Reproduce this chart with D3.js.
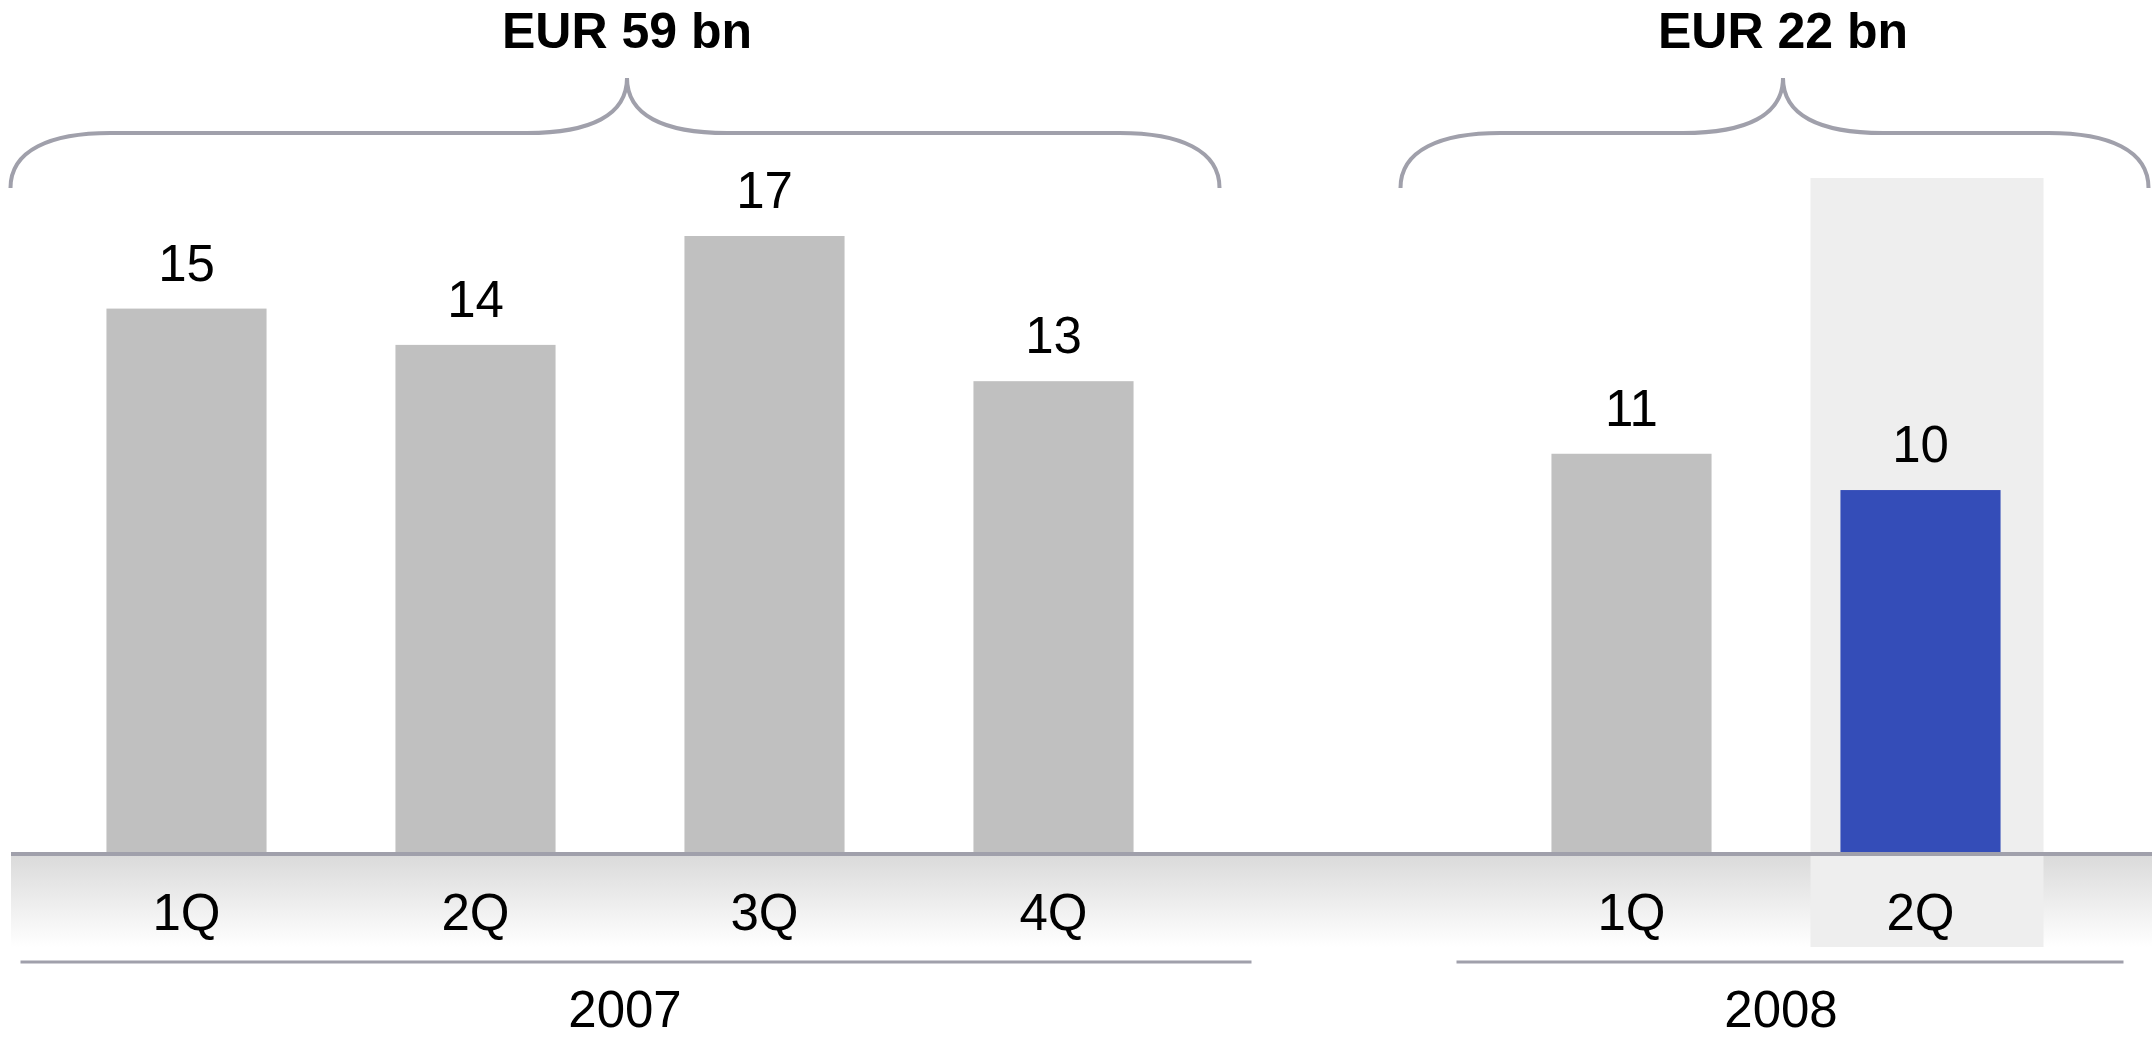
<!DOCTYPE html>
<html>
<head>
<meta charset="utf-8">
<script src="https://cdn.jsdelivr.net/npm/d3@7"></script>
<style>
  html, body { margin: 0; padding: 0; background: #ffffff; }
  svg { display: block; }
  text { font-family: "Liberation Sans", Arial, sans-serif; fill: #000; }
</style>
</head>
<body>
<svg id="chart" width="2152" height="1040"></svg>
<script>
// Quarterly values, EUR bn
const years = ["2007", "2008"];
const yearTotals = ["EUR 59 bn", "EUR 22 bn"];
const quarters = ["1Q", "2Q", "3Q", "4Q", "1Q", "2Q"];
const quarterYears = ["2007", "2007", "2007", "2007", "2008", "2008"];
const values = [15, 14, 17, 13, 11, 10];
const highlighted = [false, false, false, false, false, true];

const W = 2152, H = 1040;
const svg = d3.select("#chart");

// Slot keys; an empty slot separates the two years
const keys = quarters.map((q, i) => quarterYears[i] + "-" + q);
const slots = keys.slice(0, 4).concat(["gap"], keys.slice(4));

const x = d3.scaleBand()
  .domain(slots)
  .range([42, 42 + 7 * 289])
  .paddingInner(0.446)
  .paddingOuter(0.223);

const baseY = 853;
const y = d3.scaleLinear().domain([0, 17]).range([baseY, 236]);

const cx = k => x(k) + x.bandwidth() / 2;
const data = values.map((v, i) => ({
  key: keys[i], q: quarters[i], year: quarterYears[i], v, hi: highlighted[i]
}));

const labelSize = 51;

// Fading band under the baseline
const defs = svg.append("defs");
const grad = defs.append("linearGradient")
  .attr("id", "fade").attr("x1", 0).attr("y1", 0).attr("x2", 0).attr("y2", 1);
grad.append("stop").attr("offset", "0%").attr("stop-color", "#dadada");
grad.append("stop").attr("offset", "100%").attr("stop-color", "#ffffff");

svg.append("rect")
  .attr("x", 11).attr("y", baseY + 2)
  .attr("width", W - 11).attr("height", 92)
  .attr("fill", "url(#fade)");

// Highlight panel behind the current quarter
svg.selectAll("rect.panel")
  .data(data.filter(d => d.hi))
  .join("rect")
  .attr("class", "panel")
  .attr("x", d => cx(d.key) - 110)
  .attr("y", 178)
  .attr("width", 233)
  .attr("height", 947 - 178)
  .attr("fill", "#eeeeee");

// Bars
svg.selectAll("rect.bar")
  .data(data)
  .join("rect")
  .attr("class", "bar")
  .attr("x", d => x(d.key))
  .attr("y", d => y(d.v))
  .attr("width", x.bandwidth())
  .attr("height", d => baseY - y(d.v))
  .attr("fill", d => d.hi ? "#344db8" : "#c0c0c0");

// Value labels
svg.selectAll("text.val")
  .data(data)
  .join("text")
  .attr("class", "val")
  .attr("x", d => cx(d.key))
  .attr("y", d => y(d.v) - 28)
  .attr("text-anchor", "middle")
  .attr("font-size", labelSize)
  .text(d => d.v);

// Baseline
svg.append("line")
  .attr("x1", 11).attr("x2", W)
  .attr("y1", baseY + 1).attr("y2", baseY + 1)
  .attr("stroke", "#a0a0ab").attr("stroke-width", 4);

// Quarter labels
svg.selectAll("text.q")
  .data(data)
  .join("text")
  .attr("class", "q")
  .attr("x", d => cx(d.key))
  .attr("y", 930)
  .attr("text-anchor", "middle")
  .attr("font-size", labelSize)
  .text(d => d.q);

// Year groups: underline, year label, brace and total
const groupGeom = {
  "2007": { lineL: -166, lineR: 198, braceL: -176, braceR: 166 },
  "2008": { lineL: -175, lineR: 203, braceL: -231, braceR: 228 }
};
const groups = years.map((yr, gi) => {
  const ks = data.filter(d => d.year === yr).map(d => d.key);
  const c0 = cx(ks[0]), c1 = cx(ks[ks.length - 1]);
  const g = groupGeom[yr];
  return {
    yr, total: yearTotals[gi],
    lineL: c0 + g.lineL, lineR: c1 + g.lineR,
    braceL: c0 + g.braceL, braceR: c1 + g.braceR,
    mid: (c0 + c1) / 2 + 7
  };
});

svg.selectAll("line.yr")
  .data(groups)
  .join("line")
  .attr("class", "yr")
  .attr("x1", d => d.lineL).attr("x2", d => d.lineR)
  .attr("y1", 962).attr("y2", 962)
  .attr("stroke", "#a0a0ab").attr("stroke-width", 3);

svg.selectAll("text.yr")
  .data(groups)
  .join("text")
  .attr("class", "yr")
  .attr("x", d => d.mid - 2)
  .attr("y", 1027)
  .attr("text-anchor", "middle")
  .attr("font-size", labelSize)
  .text(d => d.yr);

// Curly brace path
function bracePath(L, R, m) {
  const yb = 188, yh = 133, yp = 78;
  const p = d3.path();
  p.moveTo(L, yb);
  p.bezierCurveTo(L, yb - 38, L + 40, yh, L + 100, yh);
  p.lineTo(m - 100, yh);
  p.bezierCurveTo(m - 36, yh, m, yh - 18, m, yp);
  p.bezierCurveTo(m, yh - 18, m + 36, yh, m + 100, yh);
  p.lineTo(R - 100, yh);
  p.bezierCurveTo(R - 40, yh, R, yb - 38, R, yb);
  return p.toString();
}

svg.selectAll("path.brace")
  .data(groups)
  .join("path")
  .attr("class", "brace")
  .attr("d", d => bracePath(d.braceL, d.braceR, d.mid))
  .attr("fill", "none")
  .attr("stroke", "#a0a0ab")
  .attr("stroke-width", 4);

svg.selectAll("text.total")
  .data(groups)
  .join("text")
  .attr("class", "total")
  .attr("x", d => d.mid)
  .attr("y", 48)
  .attr("text-anchor", "middle")
  .attr("font-size", 50)
  .attr("font-weight", "bold")
  .text(d => d.total);
</script>
</body>
</html>
